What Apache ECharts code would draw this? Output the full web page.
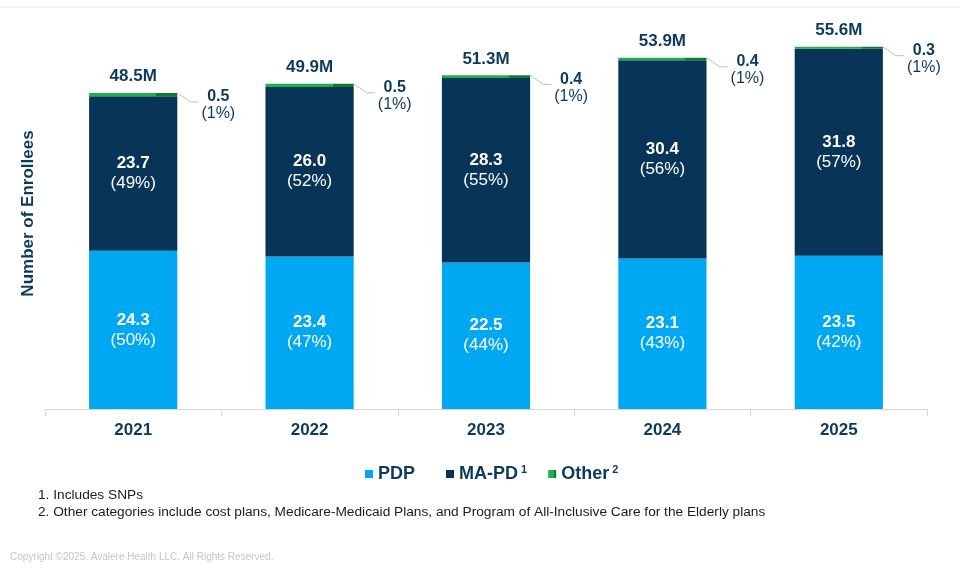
<!DOCTYPE html>
<html>
<head>
<meta charset="utf-8">
<script src="https://cdn.jsdelivr.net/npm/echarts@6/dist/echarts.min.js"></script>
<style>html,body{margin:0;padding:0;background:#fff;}#c{width:960px;height:576px;}</style>
</head>
<body>
<div id="c"></div>
<script>
var years = ['2021', '2022', '2023', '2024', '2025'];
var pdp = [24.3, 23.4, 22.5, 23.1, 23.5];
var pdpPct = ['50%', '47%', '44%', '43%', '42%'];
var mapd = [23.7, 26.0, 28.3, 30.4, 31.8];
var mapdPct = ['49%', '52%', '55%', '56%', '57%'];
var other = [0.5, 0.5, 0.4, 0.4, 0.3];
var otherPct = ['1%', '1%', '1%', '1%', '1%'];
var totals = ['48.5M', '49.9M', '51.3M', '53.9M', '55.6M'];

var NAVY = '#0b3a5d';
var FONT = '"Liberation Sans", Arial, sans-serif';

var chart = echarts.init(document.getElementById('c'));

function inLabel(pcts, vals) {
  return {
    show: true, position: 'inside', color: '#fff', fontFamily: FONT,
    formatter: function (p) { return '{v|' + vals[p.dataIndex].toFixed(1) + '}\n{p|(' + pcts[p.dataIndex] + ')}'; },
    rich: {
      v: { fontSize: 17, fontWeight: 'bold', color: '#fff', fontFamily: FONT, lineHeight: 20 },
      p: { fontSize: 17, color: '#fff', fontFamily: FONT, lineHeight: 20 }
    }
  };
}

var annData = years.map(function (y, i) { return [i, pdp[i] + mapd[i] + other[i]]; });

chart.setOption({
  animation: false,
  grid: { left: 45, right: 33, top: 18, bottom: 167, containLabel: false },
  legend: {
    data: ['PDP', 'MA-PD', 'Other'],
    left: 360, top: 459,
    icon: 'rect', itemWidth: 8, itemHeight: 8, itemGap: 21,
    formatter: function (n) {
      if (n === 'MA-PD') return '{n|MA-PD}{s| 1}';
      if (n === 'Other') return '{n|Other}{s| 2}';
      return '{n|' + n + '}{g|  }';
    },
    textStyle: {
      rich: {
        n: { fontSize: 18, fontWeight: 'bold', color: NAVY, fontFamily: FONT },
        g: { fontSize: 18, fontFamily: FONT },
        s: { fontSize: 11, fontWeight: 'bold', color: NAVY, fontFamily: FONT, padding: [0, 0, 9, 0] }
      }
    }
  },
  xAxis: {
    type: 'category', data: years,
    axisLine: { lineStyle: { color: '#d9d9d9', width: 1 } },
    axisTick: { show: true, length: 7, interval: 0, lineStyle: { color: '#d9d9d9' } },
    axisLabel: { color: NAVY, fontSize: 17, fontWeight: 'bold', fontFamily: FONT, margin: 13 }
  },
  yAxis: {
    type: 'value', min: 0, max: 60, show: true,
    axisLine: { show: false }, axisTick: { show: false }, axisLabel: { show: false }, splitLine: { show: false },
    name: 'Number of Enrollees', nameLocation: 'middle', nameGap: 8, nameRotate: 90,
    nameTextStyle: { color: NAVY, fontSize: 17, fontWeight: 'bold', fontFamily: FONT }
  },
  series: [
    { name: 'PDP', type: 'bar', stack: 'a', barWidth: '50%', data: pdp,
      itemStyle: { color: '#00a8f1' }, label: inLabel(pdpPct, pdp) },
    { name: 'MA-PD', type: 'bar', stack: 'a', data: mapd,
      itemStyle: { color: '#073457' }, label: inLabel(mapdPct, mapd) },
    { name: 'Other', type: 'bar', stack: 'a', data: other,
      itemStyle: { color: new echarts.graphic.LinearGradient(0, 0, 1, 0, [
        { offset: 0, color: '#1fae49' }, { offset: 0.76, color: '#1fae49' },
        { offset: 0.76, color: '#0e7a34' }, { offset: 1, color: '#0e7a34' }]) },
      label: { show: true, position: 'top', distance: 8, color: NAVY, fontSize: 17, fontWeight: 'bold', fontFamily: FONT,
        formatter: function (p) { return totals[p.dataIndex]; } } },
    { name: 'ann', type: 'custom', data: annData, z: 10, silent: true,
      encode: { x: 0, y: 1 },
      renderItem: function (params, api) {
        var i = api.value(0);
        var pt = api.coord([i, api.value(1)]);
        var hw = api.size([1, 0])[0] * 0.25;
        var x0 = pt[0] + hw, y0 = pt[1];
        return { type: 'group', children: [
          { type: 'polyline', shape: { points: [[x0, y0], [x0 + 13, y0 + 9], [x0 + 21, y0 + 9]] },
            style: { stroke: '#bfbfbf', lineWidth: 1, fill: null } },
          { type: 'text', style: { text: other[i].toFixed(1), x: x0 + 41, y: y0 + 4, align: 'center', verticalAlign: 'middle',
            font: 'bold 16px ' + FONT, fill: NAVY } },
          { type: 'text', style: { text: '(' + otherPct[i] + ')', x: x0 + 41, y: y0 + 21, align: 'center', verticalAlign: 'middle',
            font: '16px ' + FONT, fill: NAVY } }
        ] };
      }
    }
  ],
  graphic: [
    { type: 'line', shape: { x1: 0, y1: 7, x2: 960, y2: 7 }, style: { stroke: '#ececec', lineWidth: 1.5 } },
    { type: 'text', left: 38, top: 488, style: { text: '1. Includes SNPs', font: '13.7px ' + FONT, fill: '#1a1a1a' } },
    { type: 'text', left: 38, top: 505, style: { text: '2. Other categories include cost plans, Medicare-Medicaid Plans, and Program of All-Inclusive Care for the Elderly plans', font: '13.7px ' + FONT, fill: '#1a1a1a' } },
    { type: 'text', left: 10, top: 552, style: { text: 'Copyright \u00a92025. Avalere Health LLC. All Rights Reserved.', font: '10px ' + FONT, fill: '#c4c4c4' } }
  ]
});
</script>
</body>
</html>
